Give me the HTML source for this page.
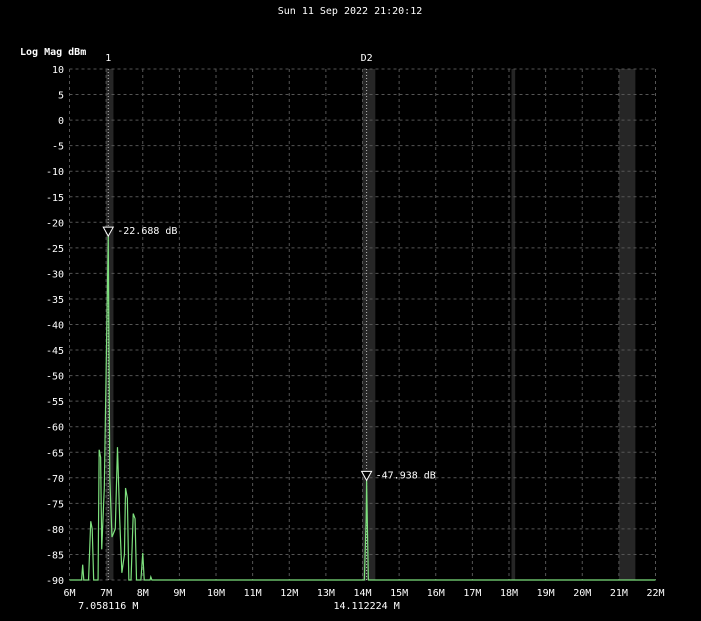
<!DOCTYPE html>
<html><head><meta charset="utf-8"><style>
body{margin:0;background:#000;}
svg{display:block;font-family:"DejaVu Sans Mono","Liberation Mono",monospace;}
</style></head><body>
<svg id="c" width="701" height="621"></svg>
<script>
const freqs=[6.0,6.33,6.36,6.39,6.52,6.58,6.62,6.66,6.78,6.81,6.85,6.88,6.95,7.058,7.1,7.16,7.25,7.31,7.37,7.43,7.5,7.53,7.58,7.62,7.68,7.74,7.79,7.83,7.95,8.0,8.04,8.2,8.22,8.25,14.05,14.1,14.112224,14.13,14.16,22.0];
const dbs=[-90,-90,-87,-90,-90,-78.5,-80,-90,-90,-64.5,-66,-84,-72,-22.7,-70,-81.6,-80,-64,-78,-88.6,-85,-72,-74,-90,-90,-77,-78,-90,-90,-84.7,-90,-90,-89.4,-90,-90,-78,-70.5,-78,-90,-90];
const yTicks=[10,5,0,-5,-10,-15,-20,-25,-30,-35,-40,-45,-50,-55,-60,-65,-70,-75,-80,-85,-90];
const xTicks=[6,7,8,9,10,11,12,13,14,15,16,17,18,19,20,21,22];
const bands=[[7.0,7.2],[14.0,14.35],[18.068,18.168],[21.0,21.45]];
const markerF=[7.058116,14.112224];
const markerDb=[-22.7,-70.5];
const markerName=["1","D2"];
const markerText=["-22.688 dB","-47.938 dB"];
const markerFreqText=["7.058116 M","14.112224 M"];

const X0=69.5,X1=655.5,Y0=69,Y1=580;
const xs=f=>X0+(f-6)/16*(X1-X0);
const ys=d=>Y0+(10-d)/100*(Y1-Y0);
const svg=document.getElementById('c');const NS='http://www.w3.org/2000/svg';
function mk(t,a,p){const e=document.createElementNS(NS,t);for(const k in a)e.setAttribute(k,a[k]);(p||svg).appendChild(e);return e;}
let e;
e=mk('text',{x:350,y:14,fill:'#fff','font-size':10,'text-anchor':'middle'});e.textContent='Sun 11 Sep 2022 21:20:12';

e=mk('text',{x:20,y:55,fill:'#fff','font-size':10,'font-weight':'bold'});e.textContent='Log Mag dBm';

bands.forEach(b=>{e=mk('rect',{x:xs(b[0]),y:Y0,width:xs(b[1])-xs(b[0]),height:Y1-Y0,fill:'#262626'});
});
yTicks.forEach(v=>{const y=ys(v);
e=mk('line',{x1:X0,x2:X1,y1:y,y2:y,stroke:'#555','stroke-dasharray':'3,3'});

e=mk('text',{x:64,y:y+4,fill:'#fff','font-size':10,'text-anchor':'end'});e.textContent=v;
});
xTicks.forEach(v=>{const x=xs(v);
e=mk('line',{x1:x,x2:x,y1:Y0,y2:Y1,stroke:'#555','stroke-dasharray':'3,3'});

e=mk('text',{x:x,y:596,fill:'#fff','font-size':10,'text-anchor':'middle'});e.textContent=v+'M';
});
markerF.forEach((f,i)=>{const x=xs(f);
e=mk('line',{x1:x,x2:x,y1:Y0,y2:Y1,stroke:'#bbb','stroke-dasharray':'1,2'});
});
e=mk('polyline',{points:freqs.map((f,i)=>xs(f)+','+ys(dbs[i])).join(' '),fill:'none',stroke:'#7ee07e','stroke-width':1.2});

markerF.forEach((f,i)=>{const x=xs(f),y=ys(markerDb[i]);
e=mk('polygon',{points:`${x-5},${y-9} ${x+5},${y-9} ${x},${y}`,fill:'#000',stroke:'#fff','stroke-width':1});

e=mk('text',{x:x+9,y:y-2,fill:'#fff','font-size':10});e.textContent=markerText[i];

e=mk('text',{x:x,y:61,fill:'#fff','font-size':10,'text-anchor':'middle'});e.textContent=markerName[i];

e=mk('text',{x:x,y:609,fill:'#fff','font-size':10,'text-anchor':'middle'});e.textContent=markerFreqText[i];
});
</script>
</body></html>
